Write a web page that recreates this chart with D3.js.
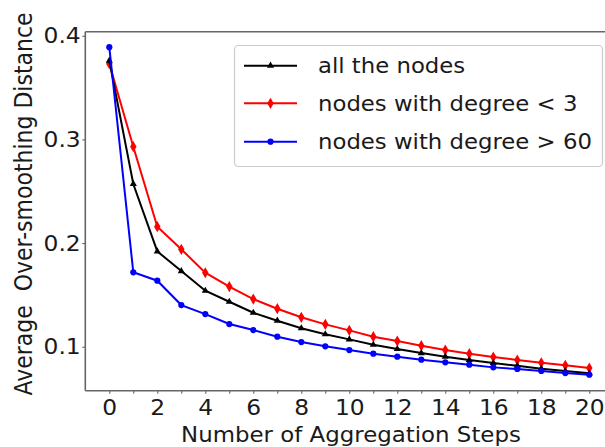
<!DOCTYPE html>
<html><head><meta charset="utf-8">
<script src="https://cdn.jsdelivr.net/npm/d3@7/dist/d3.min.js"></script>
<style>body{margin:0;background:#fff}svg{display:block}</style>
</head><body>
<svg id="c" width="605" height="447"></svg>
<script>
const steps = d3.range(0, 21);
const allNodes = [0.376,0.257,0.192,0.173,0.154,0.1434,0.1328,0.1251,0.1178,0.112,0.1071,0.1019,0.0978,0.0939,0.0904,0.0872,0.0843,0.0817,0.0788,0.0766,0.0744];
const lowDegree = [0.373,0.293,0.2158,0.194,0.1714,0.158,0.146,0.1367,0.1284,0.1216,0.1158,0.1097,0.1055,0.101,0.0968,0.0933,0.0901,0.0872,0.0846,0.0821,0.0795];
const highDegree = [0.389,0.1718,0.1637,0.1402,0.1315,0.1219,0.1161,0.1097,0.1045,0.1004,0.0968,0.0933,0.0904,0.0875,0.085,0.0827,0.0801,0.0785,0.0766,0.0746,0.073];
const seriesNames = ["all the nodes","nodes with degree < 3","nodes with degree > 60"];
const seriesColors = ["#000000","#ff0000","#0000ff"];
const xTicks = [0,2,4,6,8,10,12,14,16,18,20];
const yTicks = [0.1,0.2,0.3,0.4];
const xLabel = "Number of Aggregation Steps";
const yLabel = "Average\u00a0\u00a0Over-smoothing Distance";

const series = [allNodes, lowDegree, highDegree];
const markers = [d3.symbolTriangle, d3.symbolDiamond, d3.symbolCircle];
const markerSizes = [22, 36, 30];

const svg = d3.select("#c");
const font = "DejaVu Sans, Verdana, sans-serif";
const sx = 1.14; // horizontal stretch of text seen in the reference
const x = d3.scaleLinear().domain([-1, 21]).range([85.3, 613.3]);
const y = d3.scaleLinear().domain([0.0576, 0.4039]).range([390.7, 31.7]);

// axes
const gx = svg.append("g").attr("transform", "translate(0,390.7)")
  .call(d3.axisBottom(x).tickValues(d3.range(0,21)).tickSize(3).tickFormat(d => xTicks.includes(d) ? d : ""));
const gy = svg.append("g").attr("transform", "translate(85.3,0)")
  .call(d3.axisLeft(y).tickValues(yTicks).tickSize(3).tickFormat(d3.format(".1f")));
[gx, gy].forEach(g => {
  g.select(".domain").remove();
  g.selectAll(".tick line").attr("stroke", "#555").attr("stroke-width", 1);
  g.selectAll(".tick text").attr("font-family", font).attr("font-size", 20.5).attr("fill", "#1a1a1a")
    .attr("transform", `scale(${sx},1)`);
});
gx.selectAll(".tick text").attr("dy", "0.95em").attr("y", 5);
gy.selectAll(".tick text").attr("x", -4).attr("dy", "0.35em");

// spines
svg.append("line").attr("x1", 85.3).attr("x2", 85.3).attr("y1", 31.7).attr("y2", 390.7).attr("stroke", "#666").attr("stroke-width", 1.6);
svg.append("line").attr("x1", 85.3).attr("x2", 613).attr("y1", 390.7).attr("y2", 390.7).attr("stroke", "#666").attr("stroke-width", 1.6);
svg.append("line").attr("x1", 85.3).attr("x2", 613).attr("y1", 31.7).attr("y2", 31.7).attr("stroke", "#666").attr("stroke-width", 1.6);

// lines
const line = d3.line().x((d,i) => x(steps[i])).y(d => y(d));
[1,0,2].forEach(k => {
  svg.append("path").datum(series[k]).attr("d", line).attr("fill", "none")
    .attr("stroke", seriesColors[k]).attr("stroke-width", 2);
  svg.selectAll(null).data(series[k]).enter().append("path")
    .attr("d", d3.symbol().type(markers[k]).size(markerSizes[k]))
    .attr("transform", (d,i) => `translate(${x(steps[i])},${y(d)})`)
    .attr("fill", seriesColors[k]);
});

// legend
svg.append("rect").attr("x", 234.5).attr("y", 45.5).attr("width", 368).attr("height", 121)
  .attr("rx", 4).attr("fill", "rgba(255,255,255,0.85)").attr("stroke", "#ccc").attr("stroke-width", 1.2);
const ly = [65.7, 103.3, 141.7];
seriesNames.forEach((name, k) => {
  svg.append("line").attr("x1", 244).attr("x2", 297).attr("y1", ly[k]).attr("y2", ly[k])
    .attr("stroke", seriesColors[k]).attr("stroke-width", 2);
  svg.append("path").attr("d", d3.symbol().type(markers[k]).size(markerSizes[k]))
    .attr("transform", `translate(270.5,${ly[k]})`).attr("fill", seriesColors[k]);
  svg.append("text").attr("transform", `translate(318,${ly[k]}) scale(1.085,1)`).attr("dy", "0.35em")
    .attr("font-family", font).attr("font-size", 21).attr("fill", "#1a1a1a").text(name);
});

// axis labels
svg.append("text").attr("transform", "translate(351,442) scale(1.04,1)").attr("text-anchor", "middle")
  .attr("font-family", font).attr("font-size", 22).attr("fill", "#1a1a1a").text(xLabel);
svg.append("text").attr("transform", "translate(32,204) rotate(-90) scale(1,1.1)").attr("text-anchor", "middle")
  .attr("font-family", font).attr("font-size", 22).attr("fill", "#1a1a1a").text(yLabel);
</script>
</body></html>
